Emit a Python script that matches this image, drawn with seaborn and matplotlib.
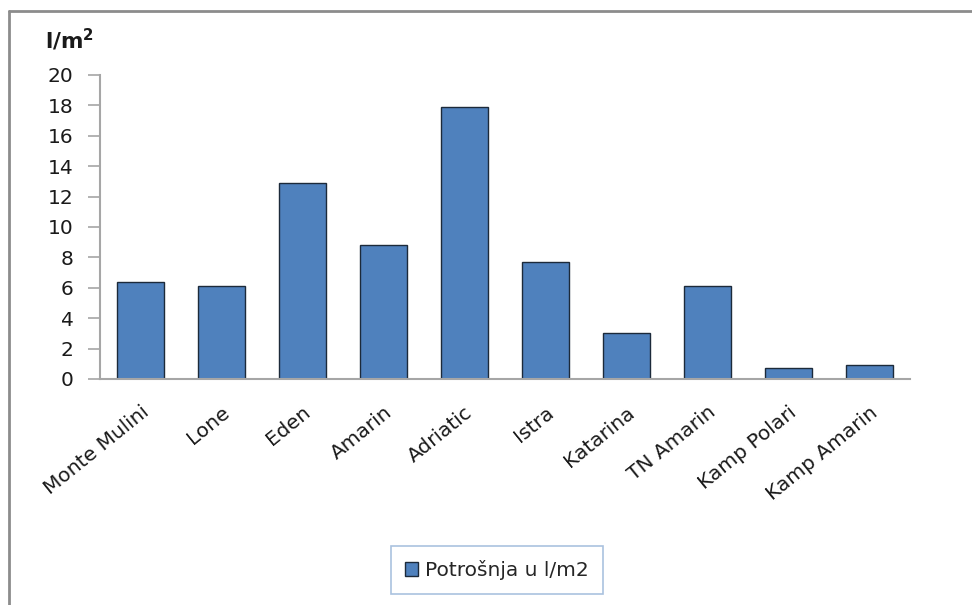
import matplotlib
matplotlib.use("Agg")
import matplotlib.pyplot as plt
from matplotlib.lines import Line2D
import seaborn as sns
import pandas as pd

categories = ["Monte Mulini", "Lone", "Eden", "Amarin", "Adriatic", "Istra",
              "Katarina", "TN Amarin", "Kamp Polari", "Kamp Amarin"]
values = [6.4, 6.1, 12.9, 8.8, 17.9, 7.7, 3.0, 6.1, 0.7, 0.9]
series_name = "Potrošnja u l/m2"
y_ticks = [0, 2, 4, 6, 8, 10, 12, 14, 16, 18, 20]

sns.set_theme(style="white")
plt.rcParams["font.family"] = ["DejaVu Sans"]
plt.rcParams["mathtext.fontset"] = "dejavusans"

df = pd.DataFrame({"Objekt": categories, "Vrijednost": values})

fig = plt.figure(figsize=(9.72, 6.05), dpi=100)
ax = fig.add_axes([100 / 972, 1 - 379 / 605, 810 / 972, 304 / 605])

sns.barplot(data=df, x="Objekt", y="Vrijednost", color="#4F81BD",
            edgecolor="#1c2a3a", linewidth=1.0, width=0.57,
            label=series_name, ax=ax, saturation=1)

ax.set_xlim(-0.5, len(categories) - 0.5)
ax.set_ylim(0, 20)
ax.set_yticks(y_ticks)
ax.set_yticklabels([str(t) for t in y_ticks], fontsize=14.5, color="#1a1a1a")
ax.set_xticks(range(len(categories)))
ax.set_xticklabels(categories, rotation=39, ha="right", rotation_mode="anchor",
                   fontsize=14.5, color="#1a1a1a")
ax.set_xlabel("")
ax.set_ylabel("")

for s in ["top", "right"]:
    ax.spines[s].set_visible(False)
for s in ["left", "bottom"]:
    ax.spines[s].set_visible(True)
    ax.spines[s].set_color("#a6a6a6")
    ax.spines[s].set_linewidth(1.5)

ax.tick_params(axis="y", which="major", direction="out", length=9, width=1.2,
               color="#a6a6a6", left=True, pad=10)
ax.tick_params(axis="x", which="major", length=0, pad=17)

fig.text(45 / 972, 1 - 40 / 605, r"$\mathbf{l/m^2}$", fontsize=15.5,
         ha="left", va="center", color="#1a1a1a")

leg = ax.legend(loc="center", bbox_to_anchor=(497 / 972, 1 - 570 / 605),
                bbox_transform=fig.transFigure, frameon=True, fancybox=False,
                fontsize=14.5, handlelength=0.65, handleheight=0.65,
                borderpad=0.7, handletextpad=0.35, borderaxespad=0)
leg.get_frame().set_edgecolor("#95b3d7")
leg.get_frame().set_linewidth(1.2)
for h in leg.legend_handles:
    h.set_edgecolor("#1c2a3a")
    h.set_linewidth(1.0)

# outer chart border (top and left visible)
fig.add_artist(Line2D([9 / 972, 1], [1 - 11 / 605, 1 - 11 / 605],
                      transform=fig.transFigure, color="#8c8c8c", linewidth=2))
fig.add_artist(Line2D([9 / 972, 9 / 972], [0, 1 - 11 / 605],
                      transform=fig.transFigure, color="#8c8c8c", linewidth=2))

fig.savefig("out.png", dpi=100, facecolor="white")
